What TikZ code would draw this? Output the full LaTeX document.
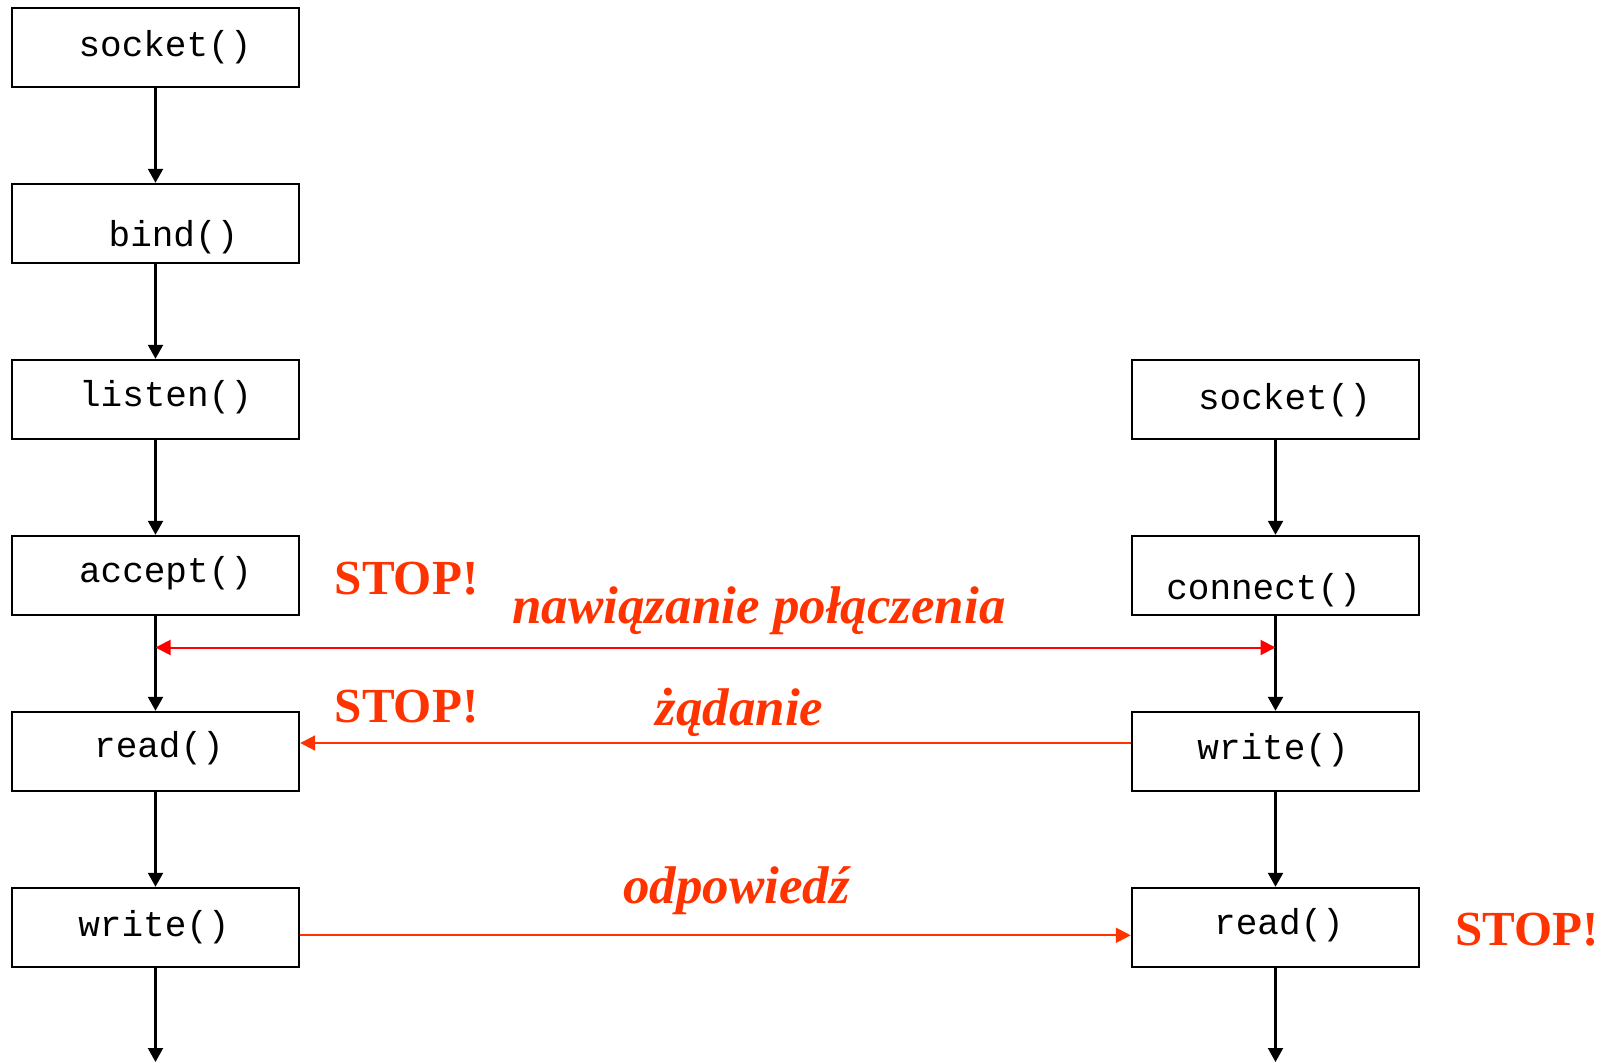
\documentclass[tikz,border=0pt]{standalone}
\usepackage{fontspec}
\setmainfont{Liberation Serif}
\setmonofont{Liberation Mono}
\usetikzlibrary{arrows.meta}
\definecolor{stopred}{RGB}{255,51,0}

\begin{document}
\begin{tikzpicture}[x=0.5pt,y=-0.5pt,
  box/.style={draw,line width=1.2pt,minimum width=143.5pt,minimum height=39.5pt,inner sep=0pt},
  fn/.style={font=\fontsize{18}{18}\selectfont\ttfamily,inner sep=0pt},
  flow/.style={line width=1.1pt,-{Triangle[width=7.5pt,length=7pt]}},
  msgline/.style={line width=1pt,stopred},
  stop/.style={text=stopred,font=\fontsize{24.5}{24.5}\selectfont\bfseries,anchor=base west,inner sep=0pt},
  msg/.style={text=stopred,font=\fontsize{26.5}{26.5}\selectfont\bfseries\itshape,anchor=base,inner sep=0pt}]

\useasboundingbox (0,0) rectangle (1605,1063);

%draw the server calls
\node[box] (ssock) at (155.5,47.5) {};
\node[box] (sbind) at (155.5,223.5) {};
\node[box] (slisten) at (155.5,399.5) {};
\node[box] (saccept) at (155.5,575.5) {};
\node[box] (sread) at (155.5,751.5) {};
\node[box] (swrite) at (155.5,927.5) {};
\coordinate (send) at (155.5,1062);

\node[fn] (tssock) at (165,47) {socket()};
\node[fn] (tsbind) at (173.5,237) {bind()};
\node[fn] (tslisten) at (165.5,397) {listen()};
\node[fn] (tsaccept) at (165.5,573) {accept()};
\node[fn] (tsread) at (159,748.5) {read()};
\node[fn] (tswrite) at (154,927) {write()};

\draw[flow] (ssock) -- (sbind);
\draw[flow] (sbind) -- (slisten);
\draw[flow] (slisten) -- (saccept);
\draw[flow] (saccept) -- (sread);
\draw[flow] (sread) -- (swrite);
\draw[flow] (swrite) -- (send);

%draw the client calls
\node[box] (csock) at (1275.5,399.5) {};
\node[box] (cconn) at (1275.5,575.5) {};
\node[box] (cwrite) at (1275.5,751.5) {};
\node[box] (cread) at (1275.5,927.5) {};
\coordinate (cend) at (1275.5,1062);

\node[fn] (tcsock) at (1284.5,400) {socket()};
\node[fn] (tcconn) at (1263.5,590) {connect()};
\node[fn] (tcwrite) at (1273,750.5) {write()};
\node[fn] (tcread) at (1279,925) {read()};

\draw[flow] (csock) -- (cconn);
\draw[flow] (cconn) -- (cwrite);
\draw[flow] (cwrite) -- (cread);
\draw[flow] (cread) -- (cend);

%messages between the two sides
\coordinate (hsl) at (155.5,647.5);
\coordinate (hsr) at (1275.5,647.5);
\draw[line width=1pt,red,{Triangle[width=7.5pt,length=7.5pt]}-{Triangle[width=7.5pt,length=7.5pt]}] (hsl) -- (hsr);
\draw[msgline,-{Triangle[width=7.5pt,length=7.5pt]}] ([yshift=4.25pt]cwrite.west) -- ([yshift=4.25pt]sread.east);
\draw[msgline,-{Triangle[width=7.5pt,length=7.5pt]}] ([yshift=-3.9pt]swrite.east) -- ([yshift=-3.9pt]cread.west);

\node[msg] (lconn) at (759,623.3) {nawiązanie połączenia};
\node[msg] (lreq) at (739.5,725.7) {żądanie};
\node[msg] (lrep) at (736.5,903.3) {odpowiedź};

\node[stop] (stopa) at (334.5,594.3) {STOP!};
\node[stop] (stopb) at (334.5,722.7) {STOP!};
\node[stop] (stopc) at (1455,945.7) {STOP!};

\end{tikzpicture}
\end{document}
